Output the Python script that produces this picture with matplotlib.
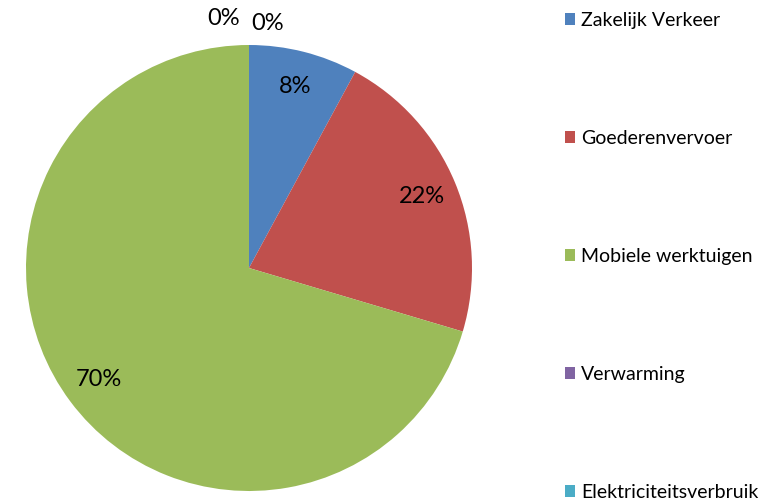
import matplotlib
matplotlib.use('Agg')
import matplotlib.pyplot as plt

categories = ['Zakelijk Verkeer', 'Goederenvervoer', 'Mobiele werktuigen',
              'Verwarming', 'Elektriciteitsverbruik']
values = [7.9, 21.7, 70.4, 0.0, 0.0]
colors = ['#4F81BD', '#C0504D', '#9BBB59', '#8064A2', '#4BACC6']

plt.rcParams['font.family'] = ['Lato', 'DejaVu Sans']

fig = plt.figure(figsize=(7.8, 5.01), dpi=100)
ax = fig.add_axes([26 / 780, 10 / 501, 446 / 780, 446 / 501])

wedges, texts, autotexts = ax.pie(values, colors=colors, startangle=90, counterclock=False,
                                  autopct=lambda p: f'{p:.0f}%', pctdistance=0.84,
                                  textprops={'fontsize': 17, 'color': 'black'},
                                  wedgeprops={'linewidth': 0})
# the two empty slices get their labels outside the top, left and right
autotexts[3].set_position((-0.112, 1.12))
autotexts[4].set_position((0.081, 1.096))
ax.set_xlim(-1, 1)
ax.set_ylim(-1, 1)
ax.set_aspect('equal')
ax.axis('off')

fig.legend(wedges, categories, loc='upper left', bbox_to_anchor=(553 / 780, 1.0),
           frameon=False, fontsize=14, labelspacing=5.2, handlelength=0.55,
           handleheight=0.55, handletextpad=0.3, borderaxespad=0.2)

fig.savefig('out.png', dpi=100)
